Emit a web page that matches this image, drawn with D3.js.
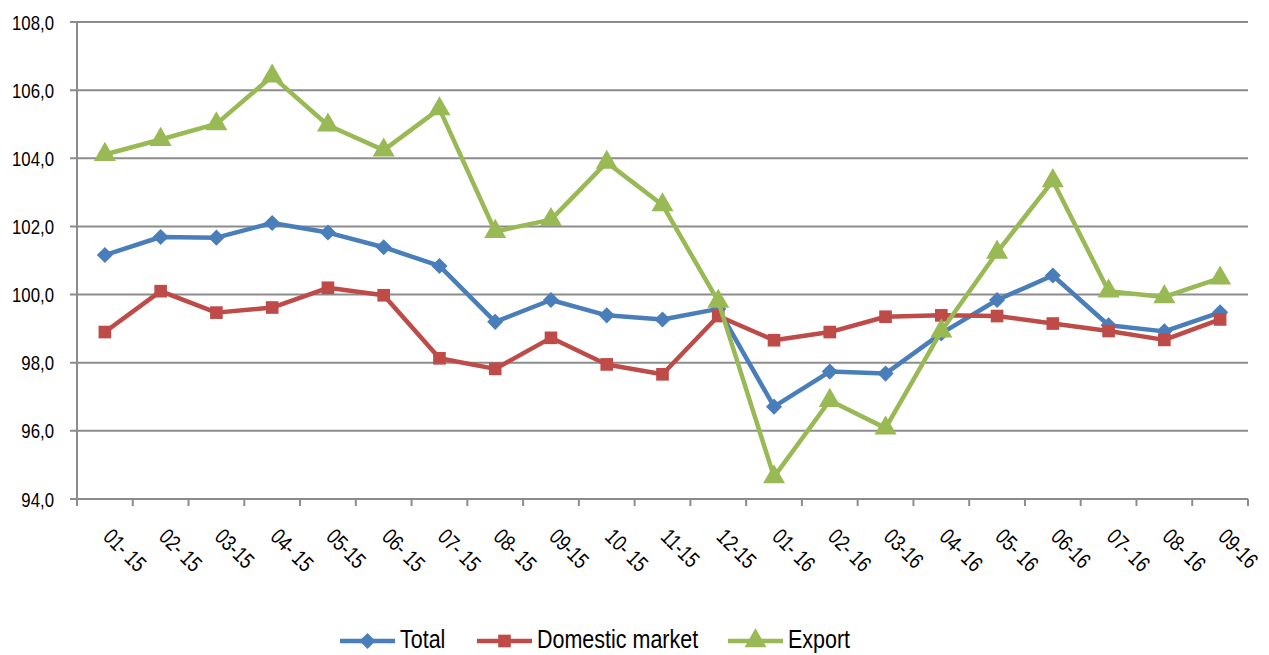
<!DOCTYPE html>
<html>
<head>
<meta charset="utf-8">
<script src="https://cdn.jsdelivr.net/npm/d3@7"></script>
<style>
  body { margin: 0; background: #fff; }
  text { font-family: "Liberation Sans", Arial, sans-serif; fill: #000; }
</style>
</head>
<body>
<div id="chart_div"></div>
<script>
months = ['01- 15','02- 15','03-15','04- 15','05-15','06- 15','07- 15','08- 15','09-15','10- 15','11-15','12-15',
          '01- 16','02- 16','03-16','04- 16','05- 16','06-16','07- 16','08- 16','09-16'];
total    = [101.16,101.69,101.67,102.10,101.82,101.39,100.84,99.20,99.84,99.39,99.27,99.58,
            96.71,97.74,97.68,98.86,99.84,100.56,99.10,98.92,99.48];
domestic = [98.90,100.10,99.47,99.62,100.20,99.98,98.13,97.82,98.73,97.95,97.66,99.37,
            98.66,98.90,99.35,99.39,99.37,99.15,98.93,98.67,99.27];
exportv  = [104.11,104.55,105.01,106.41,104.97,104.24,105.45,101.85,102.20,103.88,102.63,99.80,
            94.65,96.89,96.08,98.93,101.24,103.34,100.10,99.93,100.48];
y_ticks  = [94,96,98,100,102,104,106,108];

// diamond = square turned 45 degrees
diamond = {
  draw: function (ctx, size) {
    var r = Math.sqrt(size) / 2 * Math.SQRT2;
    ctx.moveTo(0, -r); ctx.lineTo(r, 0); ctx.lineTo(0, r); ctx.lineTo(-r, 0); ctx.closePath();
  }
};

series = [
  {name: 'Total',           values: total,    color: '#4A7EBB', marker: diamond,          size: 130},
  {name: 'Domestic market', values: domestic, color: '#BE4B48', marker: d3.symbolSquare,   size: 160},
  {name: 'Export',          values: exportv,  color: '#98B954', marker: d3.symbolTriangle, size: 210}
];

chart_w = 1269;
chart_h = 655;
plot_left = 77;
plot_right = 1248;
plot_top = 22;
plot_bottom = 499;
grid_color = '#8C8C8C';
squeeze = 0.8;   // labels in the original are condensed

svg = d3.select('#chart_div')
  .append('svg')
  .attr('width', chart_w)
  .attr('height', chart_h)
  .style('display', 'block');

x = d3.scalePoint().domain(months).range([plot_left, plot_right]).padding(0.5);
y = d3.scaleLinear().domain([94, 108]).range([plot_bottom, plot_top]);
step = x.step();

// gridlines
svg.append('g')
  .selectAll('line')
  .data(y_ticks)
  .join('line')
  .attr('x1', plot_left - 7)
  .attr('x2', plot_right)
  .attr('y1', d => y(d))
  .attr('y2', d => y(d))
  .attr('stroke', grid_color)
  .attr('stroke-width', 2);

// y axis
svg.append('line')
  .attr('x1', plot_left).attr('x2', plot_left)
  .attr('y1', plot_top).attr('y2', plot_bottom)
  .attr('stroke', grid_color).attr('stroke-width', 2);

svg.append('g')
  .selectAll('text')
  .data(y_ticks)
  .join('text')
  .attr('transform', d => 'translate(54,' + (y(d) + 7.5) + ') scale(' + squeeze + ',1)')
  .attr('text-anchor', 'end')
  .style('font-size', '21px')
  .text(d => d3.format('.1f')(d).replace('.', ','));

// x axis ticks at category boundaries
boundaries = d3.range(months.length + 1).map(i => plot_left + i * step);
svg.append('g')
  .selectAll('line')
  .data(boundaries)
  .join('line')
  .attr('x1', d => d).attr('x2', d => d)
  .attr('y1', plot_bottom).attr('y2', plot_bottom + 7)
  .attr('stroke', grid_color).attr('stroke-width', 2);

svg.append('g')
  .selectAll('text')
  .data(months)
  .join('text')
  .attr('transform', d => 'translate(' + (x(d) - 3) + ',' + (plot_bottom + 39) + ') rotate(45) scale(' + squeeze + ',1)')
  .attr('text-anchor', 'start')
  .style('font-size', '22px')
  .text(d => d);

// lines + markers
line = d3.line().x((d, i) => x(months[i])).y(d => y(d));

series.forEach(function (s) {
  svg.append('path')
    .datum(s.values)
    .attr('d', line)
    .attr('fill', 'none')
    .attr('stroke', s.color)
    .attr('stroke-width', 4.5)
    .attr('stroke-linejoin', 'round');

  svg.append('g')
    .selectAll('path')
    .data(s.values)
    .join('path')
    .attr('transform', (d, i) => 'translate(' + x(months[i]) + ',' + y(d) + ')')
    .attr('d', d3.symbol().type(s.marker).size(s.size))
    .attr('fill', s.color);
});

// legend
legend_x = [340, 477, 728];
legend = svg.append('g');
series.forEach(function (s, i) {
  lx = legend_x[i];
  legend.append('line')
    .attr('x1', lx).attr('x2', lx + 55)
    .attr('y1', 641).attr('y2', 641)
    .attr('stroke', s.color).attr('stroke-width', 4.5);
  legend.append('path')
    .attr('transform', 'translate(' + (lx + 27.5) + ',641)')
    .attr('d', d3.symbol().type(s.marker).size(s.size))
    .attr('fill', s.color);
  legend.append('text')
    .attr('transform', 'translate(' + (lx + 60) + ',648) scale(0.86,1)')
    .style('font-size', '25px')
    .text(s.name);
});
</script>
</body>
</html>
